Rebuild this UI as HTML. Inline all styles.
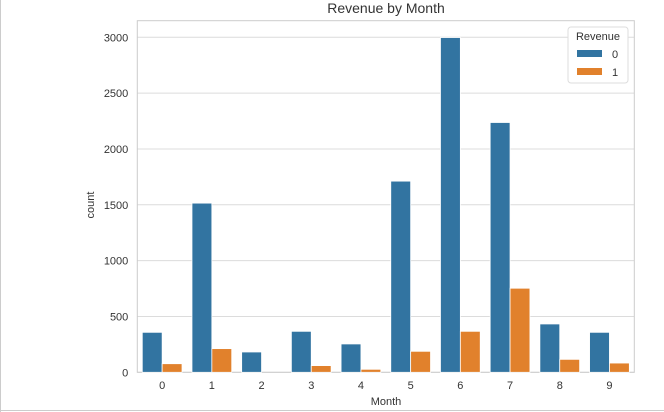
<!DOCTYPE html>
<html><head><meta charset="utf-8"><style>
body{margin:0;background:#fff;font-family:"Liberation Sans",sans-serif;}
#wrap{position:relative;width:664px;height:412px;overflow:hidden;}
</style></head><body>
<div id="wrap">
<div style="position:absolute;left:0;top:0;width:1px;height:412px;background:#ccc"></div>
<div style="position:absolute;left:0;top:410px;width:664px;height:1px;background:#ccc"></div>
<svg id="chart" width="664" height="412" style="position:absolute;left:0;top:0"></svg>
</div>
<script>
const categories=["0","1","2","3","4","5","6","7","8","9"];
const revenue0=[358,1515,182,367,254,1712,2998,2237,433,358];
const revenue1=[77,212,0,60,27,188,367,753,116,83];
const yTicks=[0,500,1000,1500,2000,2500,3000];
const seriesNames=["0","1"];
const colors=["#3274a1","#e1812c"];
const L=137.3,R=634.3,T=20.7,B=372.3,yMax=3000,yTop=37.3;
const NS="http://www.w3.org/2000/svg";
const svg=document.getElementById('chart');
function y(v){return B-(B-yTop)*v/yMax;}
const band=(R-L)/categories.length;
function x(i){return L+band*i;}
function el(t,a,txt){const e=document.createElementNS(NS,t);for(const k in a)e.setAttribute(k,a[k]);if(txt!=null)e.textContent=txt;svg.appendChild(e);return e;}
yTicks.forEach(v=>{
 const g=el('line',{x1:L,x2:R,y1:y(v),y2:y(v),stroke:'#dcdcdc','stroke-width':1});
 
 
 const t=el('text',{x:L-9,y:y(v)+4,'text-anchor':'end','font-size':11,fill:'#333'},String(v));
 
 
});
const frame=el('rect',{x:L,y:T,width:R-L,height:B-T,fill:'none',stroke:'#ccc','stroke-width':1});


const bw=band*0.4;
[revenue0,revenue1].forEach((s,si)=>{
 s.forEach((v,i)=>{
  const bx=x(i)+band*0.1+bw*si;
  const r=el('rect',{x:bx,y:y(v),width:bw,height:B-y(v),fill:colors[si],stroke:'#fff','stroke-width':0.8});
  
  
 });
});
categories.forEach((c,i)=>{
 const t=el('text',{x:x(i)+band/2,y:389,'text-anchor':'middle','font-size':11,fill:'#333'},c);
 
 
});
const title=el('text',{x:386,y:13,'text-anchor':'middle','font-size':14,fill:'#333'},'Revenue by Month');


const xt=el('text',{x:386,y:405,'text-anchor':'middle','font-size':11,fill:'#333'},'Month');


const yt=el('text',{x:0,y:0,'text-anchor':'middle','font-size':11,fill:'#333',transform:'translate(94,205) rotate(-90)'},'count');


const lg=el('rect',{x:568,y:27,width:60,height:56,rx:3,fill:'#fff',stroke:'#ddd','stroke-width':1});


const lt=el('text',{x:598,y:40,'text-anchor':'middle','font-size':11,fill:'#333'},'Revenue');


seriesNames.forEach((n,i)=>{
 const r=el('rect',{x:577,y:50+i*18,width:25,height:7,fill:colors[i]});
 
 
 const t=el('text',{x:612,y:58+i*18,'font-size':11,fill:'#333'},n);
 
 
});
</script>
</body></html>
